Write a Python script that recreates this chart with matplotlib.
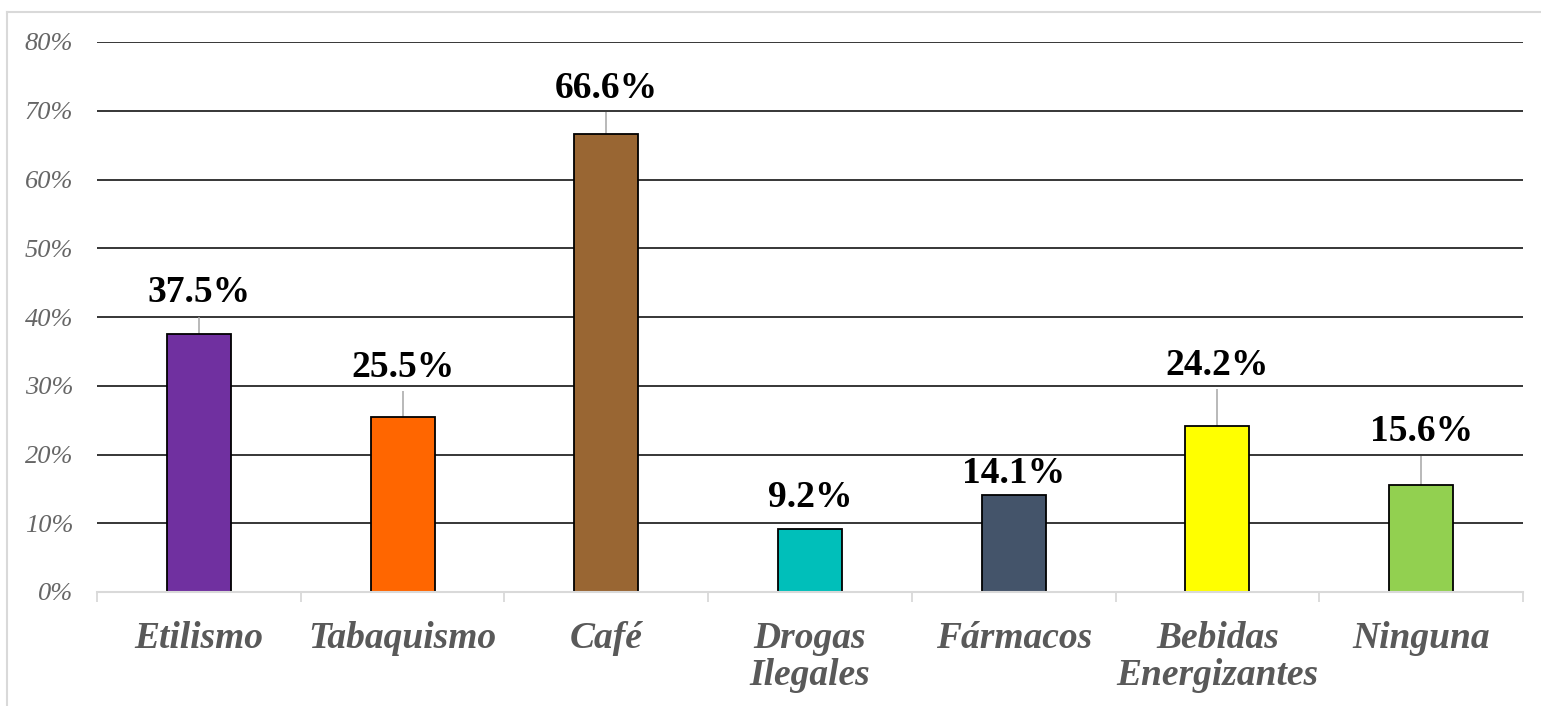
import matplotlib.pyplot as plt
from matplotlib.lines import Line2D

# Consumo de sustancias (% de encuestados)
categories = ["Etilismo", "Tabaquismo", "Café", "Drogas\nIlegales", "Fármacos",
              "Bebidas\nEnergizantes", "Ninguna"]
values = [37.5, 25.5, 66.6, 9.2, 14.1, 24.2, 15.6]
colors = ["#7030A0", "#FF6600", "#996633", "#00BFBA", "#44546A", "#FFFF00", "#92D050"]
yticks = [0, 10, 20, 30, 40, 50, 60, 70, 80]

# how far above each bar its label sits (in % units)
label_offsets = [6.0, 7.2, 6.7, 4.6, 3.2, 8.8, 7.7]


def main():
    W, H = 1541, 706
    fig = plt.figure(figsize=(W / 100, H / 100), dpi=100)
    ax = fig.add_axes([97 / W, (H - 592) / H, 1426 / W, 550 / H])

    serif = ["Liberation Serif", "DejaVu Serif"]
    gray = "#595959"

    # horizontal gridlines (the 0% line is the bottom spine)
    for t in yticks[1:]:
        ax.axhline(t, color="black", lw=1.1, zorder=1)

    x = list(range(len(categories)))
    ax.bar(x, values, width=0.314, color=colors, edgecolor="black",
           linewidth=1.3, zorder=3)

    # data labels with leader lines
    for xi, v, off in zip(x, values, label_offsets):
        ly = v + off
        if off > 5:
            ax.vlines(xi, v, ly - 3.5, color="#a6a6a6", lw=1.1, zorder=2)
        ax.text(xi, ly, f"{v:.1f}%", ha="center", va="center",
                fontsize=27, fontweight="bold", family=serif, color="black")

    ax.set_xlim(-0.5, len(categories) - 0.5)
    ax.set_ylim(0, 80)
    ax.set_yticks(yticks)
    ax.set_yticklabels([f"{t}%" for t in yticks])
    ax.set_xticks(x)
    ax.set_xticklabels(categories)
    ax.set_xticks([i - 0.5 for i in range(len(categories) + 1)], minor=True)

    for lab in ax.get_yticklabels():
        lab.set_family(serif)
        lab.set_style("italic")
        lab.set_fontsize(19)
        lab.set_color("#666666")
    for lab in ax.get_xticklabels():
        lab.set_family(serif)
        lab.set_style("italic")
        lab.set_weight("bold")
        lab.set_fontsize(27)
        lab.set_color(gray)
        lab.set_linespacing(1.05)

    ax.tick_params(axis="y", length=0, pad=17)
    ax.tick_params(axis="x", which="major", length=0, pad=21)
    ax.tick_params(axis="x", which="minor", length=7.5, width=1.3, color="#d9d9d9")

    for s in ["top", "right", "left"]:
        ax.spines[s].set_visible(False)
    ax.spines["bottom"].set_color("#d9d9d9")
    ax.spines["bottom"].set_linewidth(1.5)
    ax.spines["bottom"].set_zorder(4)

    # chart area border (left and top edges)
    bx, by = 7 / W, 1 - 12 / H
    fig.add_artist(Line2D([bx, bx], [0, by], color="#d9d9d9", lw=1.5))
    fig.add_artist(Line2D([bx, 1], [by, by], color="#d9d9d9", lw=1.5))

    fig.savefig("out.png", dpi=100)


if __name__ == "__main__":
    main()
